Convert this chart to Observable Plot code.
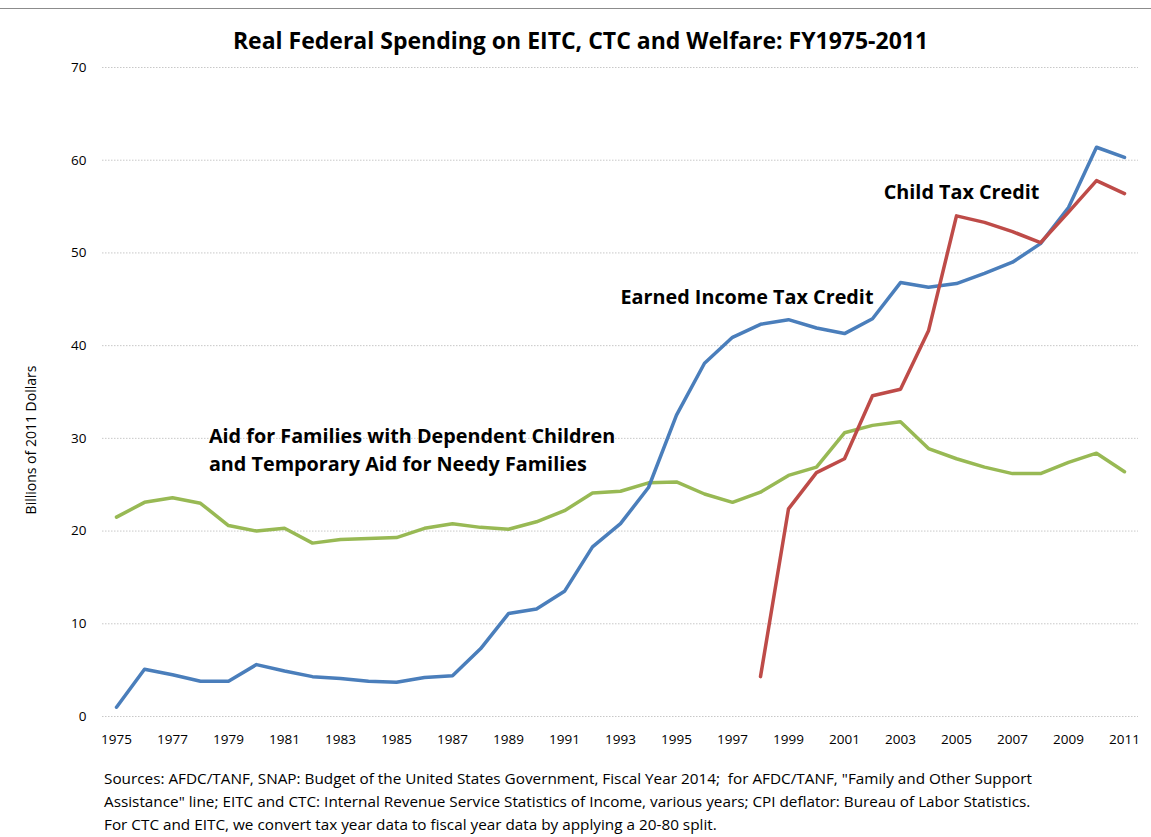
<!DOCTYPE html>
<html>
<head>
<meta charset="utf-8">
<script src="https://cdn.jsdelivr.net/npm/d3@7"></script>
<script src="https://cdn.jsdelivr.net/npm/@observablehq/plot@0.6"></script>
<style>
  html, body { margin: 0; padding: 0; background: #fff; }
  #wrap { position: relative; width: 1151px; height: 837px; overflow: hidden; font-family: "Open Sans", sans-serif; }
  #topline { position: absolute; left: 0; top: 8px; width: 1151px; height: 0; border-top: 1px solid #8c8c8c; }
  #title { position: absolute; left: 0; width: 1151px; top: 24px; text-align: center; font-weight: bold; font-size: 23px; color: #000; padding-left: 10px; box-sizing: border-box; }
  #ylabel { position: absolute; left: 30px; top: 440px; transform: translate(-50%, -50%) rotate(-90deg); white-space: nowrap; font-size: 14px; }
  #chart { position: absolute; left: 0; top: 0; }
  #foot { position: absolute; left: 104px; top: 767px; font-size: 15.3px; line-height: 23px; color: #000; }
</style>
</head>
<body>
<div id="wrap">
  <div id="topline"></div>
  <div id="chart"></div>
  <div id="title">Real Federal Spending on EITC, CTC and Welfare: FY1975-2011</div>
  <div id="ylabel">Billions of 2011 Dollars</div>
  <div id="foot">Sources: AFDC/TANF, SNAP: Budget of the United States Government, Fiscal Year 2014; &nbsp;for AFDC/TANF, "Family and Other Support<br>Assistance" line; EITC and CTC: Internal Revenue Service Statistics of Income, various years; CPI deflator: Bureau of Labor Statistics.<br>For CTC and EITC, we convert tax year data to fiscal year data by applying a 20-80 split.</div>
</div>
<script>
const years = d3.range(1975, 2012);
const eitc = [1.0, 5.1, 4.5, 3.8, 3.8, 5.6, 4.9, 4.3, 4.1, 3.8, 3.7, 4.2, 4.4, 7.3, 11.1, 11.6, 13.5, 18.3, 20.8, 24.7, 32.5, 38.1, 40.9, 42.3, 42.8, 41.9, 41.3, 42.9, 46.8, 46.3, 46.7, 47.8, 49.0, 51.0, 54.9, 61.4, 60.3];
const ctcYears = d3.range(1998, 2012);
const ctc = [4.3, 22.4, 26.3, 27.8, 34.6, 35.3, 41.6, 54.0, 53.3, 52.3, 51.1, 54.4, 57.8, 56.4];
const afdc = [21.5, 23.1, 23.6, 23.0, 20.6, 20.0, 20.3, 18.7, 19.1, 19.2, 19.3, 20.3, 20.8, 20.4, 20.2, 21.0, 22.2, 24.1, 24.3, 25.2, 25.3, 24.0, 23.1, 24.2, 26.0, 26.9, 30.6, 31.4, 31.8, 28.9, 27.8, 26.9, 26.2, 26.2, 27.4, 28.4, 26.4];
const yTicks = [0, 10, 20, 30, 40, 50, 60, 70];
const xTicks = d3.range(1975, 2012, 2);
const labels = [
  {year: 1978.3, value: 30.2, text: "Aid for Families with Dependent Children"},
  {year: 1978.3, value: 27.2, text: "and Temporary Aid for Needy Families"},
  {year: 1993.0, value: 45.2, text: "Earned Income Tax Credit"},
  {year: 2002.4, value: 56.5, text: "Child Tax Credit"}
];
const colors = {eitc: "#4a7ebb", ctc: "#be4b48", afdc: "#98b954"};

const eitcData = years.map((y, i) => ({year: y, value: eitc[i]}));
const ctcData = ctcYears.map((y, i) => ({year: y, value: ctc[i]}));
const afdcData = years.map((y, i) => ({year: y, value: afdc[i]}));

const chart = Plot.plot({
  width: 1151,
  height: 756,
  marginTop: 67,
  marginBottom: 40,
  marginLeft: 116,
  marginRight: 27,
  style: {fontFamily: "'Open Sans', sans-serif", fontSize: "13px", color: "#000", background: "transparent"},
  x: {domain: [1975, 2011]},
  y: {domain: [0, 70]},
  marks: [
    Plot.ruleY(yTicks, {x1: 1974.5, x2: 2011.5, stroke: "#c8c8c8", strokeDasharray: "1.5,1.5", strokeWidth: 1}),
    Plot.axisY(yTicks, {tickSize: 0, tickPadding: 0, dx: -30, label: null, fontSize: 13.5}),
    Plot.axisX(xTicks, {tickSize: 0, tickPadding: 18, label: null, tickFormat: d => String(d), fontSize: 13.5}),
    Plot.line(afdcData, {x: "year", y: "value", stroke: colors.afdc, strokeWidth: 3.5}),
    Plot.line(eitcData, {x: "year", y: "value", stroke: colors.eitc, strokeWidth: 3.5}),
    Plot.line(ctcData, {x: "year", y: "value", stroke: colors.ctc, strokeWidth: 3.5}),
    Plot.text(labels, {x: "year", y: "value", text: "text", textAnchor: "start", fontWeight: "bold", fontSize: 19.8, fill: "#000"})
  ]
});
document.getElementById("chart").appendChild(chart);
</script>
</body>
</html>
